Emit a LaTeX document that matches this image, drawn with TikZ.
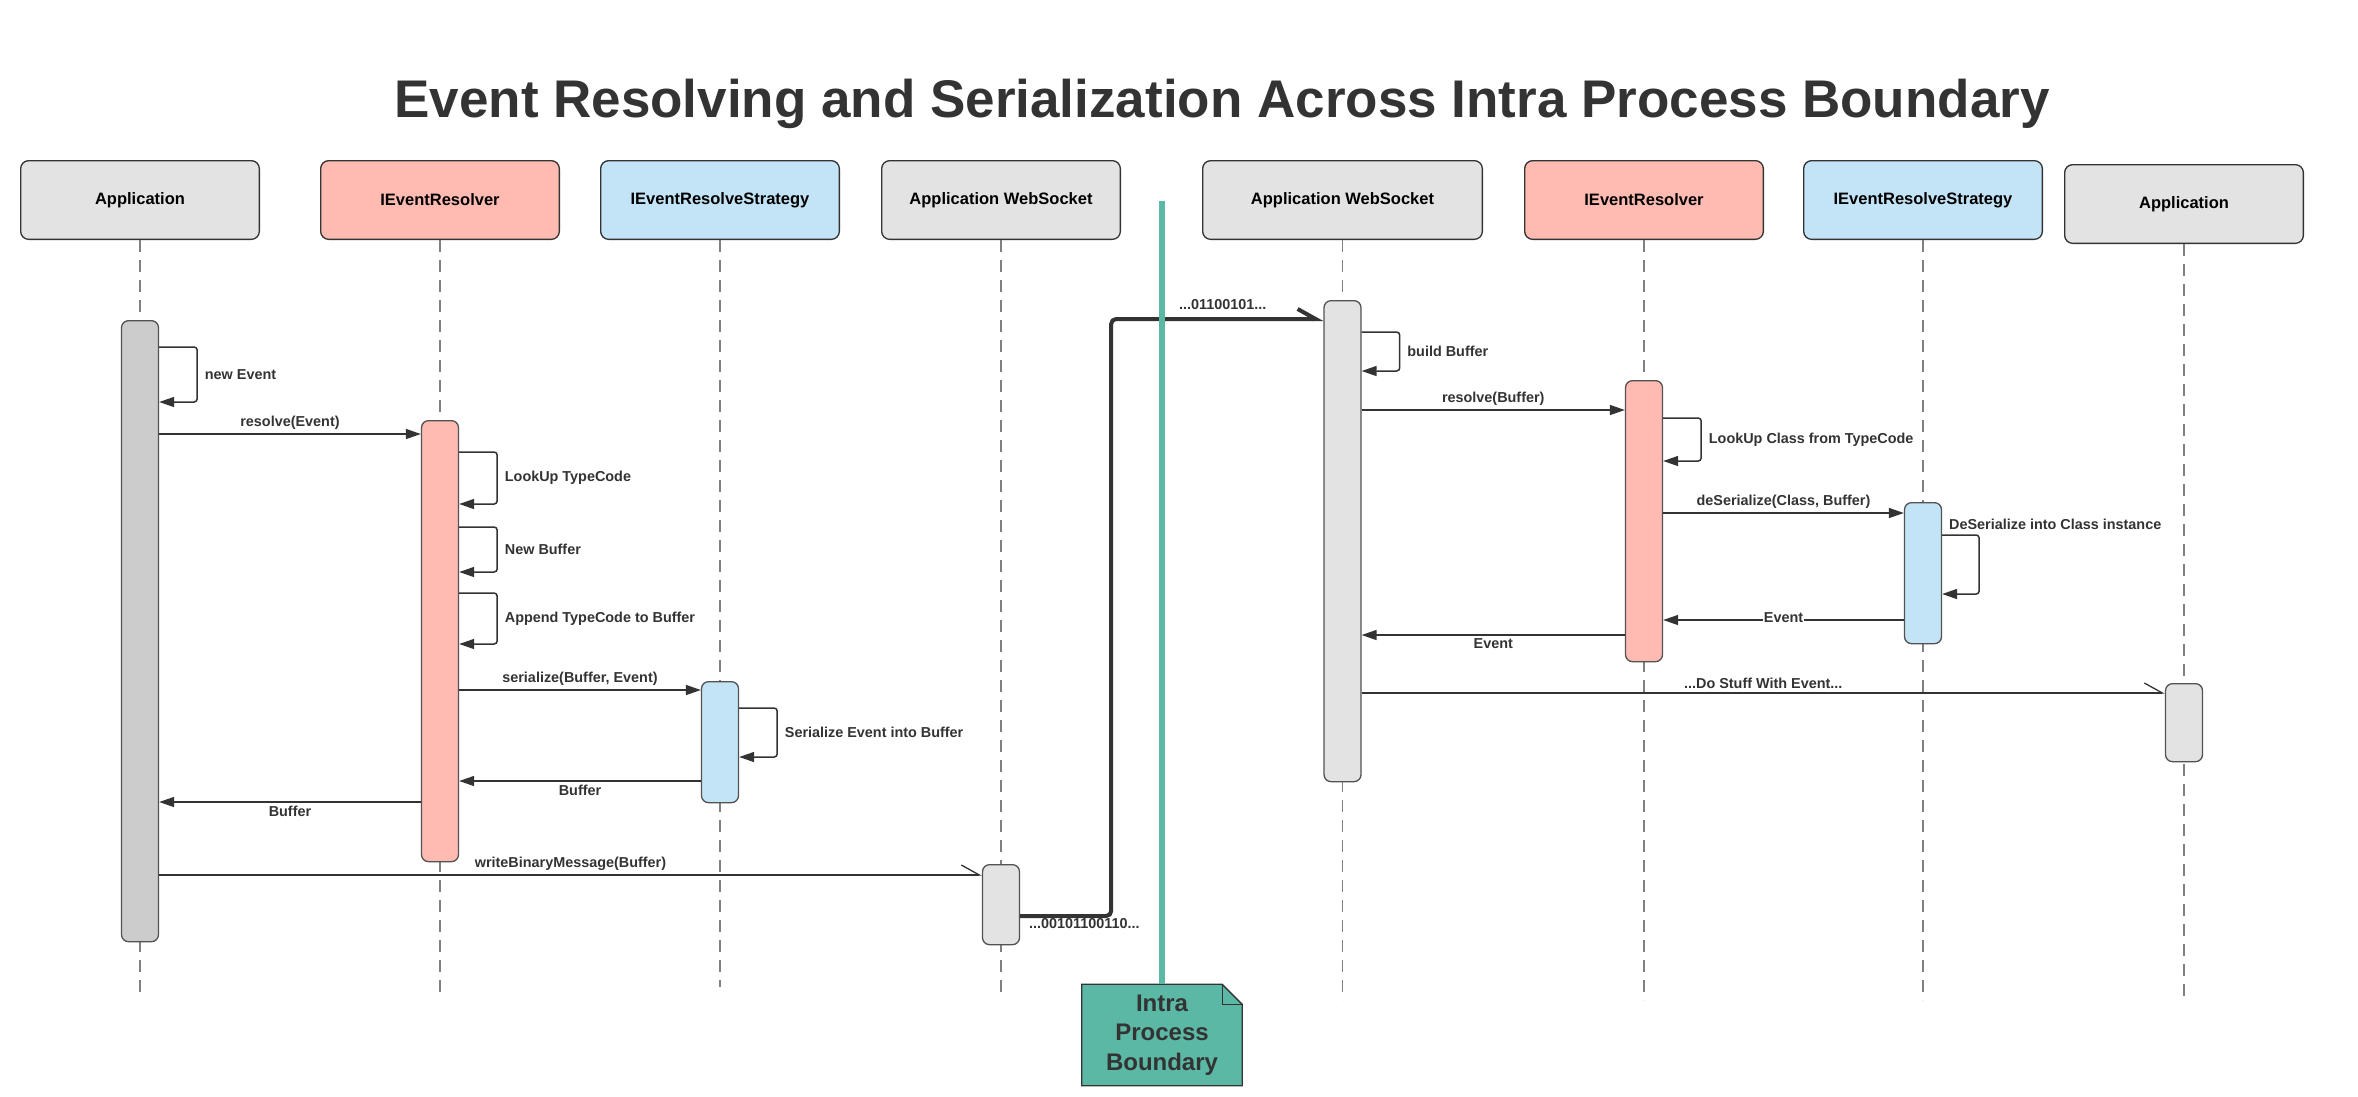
\documentclass[tikz,border=0pt]{standalone}
\usepackage{fontspec}
\setmainfont{Liberation Sans}
\usetikzlibrary{arrows.meta, positioning, backgrounds, calc}
\definecolor{cgray}{RGB}{227,227,227}
\definecolor{cgrayd}{RGB}{204,204,204}
\definecolor{cred}{RGB}{255,187,177}
\definecolor{cblue}{RGB}{194,228,246}
\definecolor{cteal}{RGB}{91,184,165}
\definecolor{cink}{RGB}{51,51,51}

\begin{document}
\begin{tikzpicture}[
  x=1pt, y=-1pt,
  head/.style   = {rectangle, rounded corners=8pt, draw=cink, line width=1.3pt,
                   fill=#1, minimum width=238.7pt, minimum height=78.7pt,
                   font=\fontsize{16.5}{20}\selectfont\bfseries, text=black},
  bar/.style    = {rectangle, rounded corners=7pt, draw=cink!85, line width=1.3pt,
                   fill=#1, minimum width=37pt, inner sep=0pt, anchor=north},
  life/.style   = {dash pattern=on 12pt off 8pt, gray, line width=1.3pt},
  msg/.style    = {-{Triangle[length=15pt, width=10pt]}, cink, line width=1.5pt},
  self/.style   = {msg, rounded corners=3pt},
  async/.style  = {-{Straight Barb[left, length=18pt, width=20pt]}, cink, line width=1.3pt},
  wire/.style   = {-{Straight Barb[left, length=18pt, width=20pt]}, cink, line width=4pt,
                   rounded corners=5pt},
  lbl/.style    = {font=\fontsize{14.4}{17}\selectfont\bfseries, text=cink, inner sep=1pt},
  notetxt/.style= {minimum width=160pt, minimum height=101pt, align=center,
                   font=\fontsize{24}{29.5}\selectfont\bfseries, text=cink},
]
\useasboundingbox (0,0) rectangle (2358,1096);

% title
\node[font=\fontsize{53}{60}\selectfont\bfseries, text=cink, anchor=base] (title)
  at (1222,117) {Event Resolving and Serialization Across Intra Process Boundary};

% participants
\node[head=cgray]                                    (appL)   at (140,200) {Application};
\node[head=cred,  right=60pt of appL]                (ierL)   {IEventResolver};
\node[head=cblue, right=40pt of ierL]                (stratL) {IEventResolveStrategy};
\node[head=cgray, right=41pt of stratL]              (wsL)    {Application WebSocket};
\node[head=cgray, right=81pt of wsL, minimum width=279.7pt] (wsR) {Application WebSocket};
\node[head=cred,  right=41pt of wsR]                 (ierR)   {IEventResolver};
\node[head=cblue, right=39pt of ierR]                (stratR) {IEventResolveStrategy};
\node[head=cgray, right=21pt of stratR, yshift=-4pt] (appR)   {Application};

% lifelines
\foreach \h/\e in {appL/993, ierL/993, stratL/987, wsL/998, wsR/1000, ierR/1000, stratR/1000, appR/996}
  \draw[life] (\h.south) -- (\h.south |- 0,\e);

% activations
\node[bar=cgrayd, minimum height=621pt] (appLbar)   at (appL |- 0,320)   {};
\node[bar=cred,   minimum height=441pt] (ierLbar)   at (ierL |- 0,420)   {};
\node[bar=cblue,  minimum height=121pt] (stratLbar) at (stratL |- 0,681) {};
\node[bar=cgray,  minimum height=80pt]  (wsLbar)    at (wsL |- 0,864)    {};
\node[bar=cgray,  minimum height=481pt] (wsRbar)    at (wsR |- 0,300)    {};
\node[bar=cred,   minimum height=281pt] (ierRbar)   at (ierR |- 0,380)   {};
\node[bar=cblue,  minimum height=141pt] (stratRbar) at (stratR |- 0,502) {};
\node[bar=cgray,  minimum height=78pt]  (appRbar)   at (appR |- 0,683)   {};

% sending side
\draw[self] (appLbar.east |- 0,347) -- ++(38,0) -- node[lbl, right=6pt] {new Event} ++(0,55)
  -- (appLbar.east |- 0,402);
\draw[msg] (appLbar.east |- 0,434) -- node[lbl, above=3pt] {resolve(Event)} (ierLbar.west |- 0,434);
\draw[self] (ierLbar.east |- 0,452) -- ++(38,0) -- node[lbl, right=6pt] {LookUp TypeCode} ++(0,52)
  -- (ierLbar.east |- 0,504);
\draw[self] (ierLbar.east |- 0,527) -- ++(38,0) -- node[lbl, right=6pt] {New Buffer} ++(0,45)
  -- (ierLbar.east |- 0,572);
\draw[self] (ierLbar.east |- 0,593) -- ++(38,0) -- node[lbl, right=6pt] {Append TypeCode to Buffer} ++(0,51)
  -- (ierLbar.east |- 0,644);
\draw[msg] (ierLbar.east |- 0,690) -- node[lbl, above=3pt] {serialize(Buffer, Event)} (stratLbar.west |- 0,690);
\draw[self] (stratLbar.east |- 0,708) -- ++(38,0) -- node[lbl, right=6pt] {Serialize Event into Buffer} ++(0,49)
  -- (stratLbar.east |- 0,757);
\draw[msg] (stratLbar.west |- 0,781) -- node[lbl, below=2pt] {Buffer} (ierLbar.east |- 0,781);
\draw[msg] (ierLbar.west |- 0,802) -- node[lbl, below=2pt] {Buffer} (appLbar.east |- 0,802);
\draw[async] (appLbar.east |- 0,875) -- node[lbl, above=3pt] {writeBinaryMessage(Buffer)} (wsLbar.west |- 0,875);

% across the boundary
\draw[wire] (wsLbar.east |- 0,916) -- ++(91,0) |- (wsRbar.west |- 0,319);
\node[lbl, anchor=west] (bitsout) at (1028,924) {...00101100110...};
\node[lbl, anchor=west] (bitsin)  at (1178,305) {...01100101...};

% receiving side
\draw[self] (wsRbar.east |- 0,332) -- ++(38,0) -- node[lbl, right=6pt] {build Buffer} ++(0,39)
  -- (wsRbar.east |- 0,371);
\draw[msg] (wsRbar.east |- 0,410) -- node[lbl, above=3pt] {resolve(Buffer)} (ierRbar.west |- 0,410);
\draw[self] (ierRbar.east |- 0,418) -- ++(38,0) -- node[lbl, right=6pt] {LookUp Class from TypeCode} ++(0,43)
  -- (ierRbar.east |- 0,461);
\draw[msg] (ierRbar.east |- 0,513) -- node[lbl, above=3pt] {deSerialize(Class, Buffer)} (stratRbar.west |- 0,513);
\draw[self] (stratRbar.east |- 0,535) -- ++(37,0) -- ++(0,59) -- (stratRbar.east |- 0,594);
\node[lbl, anchor=west] (deser) at (1948,524) {DeSerialize into Class instance};
\draw[msg] (stratRbar.west |- 0,620) -- node[lbl, fill=white, yshift=2pt] {Event} (ierRbar.east |- 0,620);
\draw[msg] (ierRbar.west |- 0,635) -- node[lbl, below=2pt] {Event} (wsRbar.east |- 0,635);
\draw[async] (wsRbar.east |- 0,693) -- node[lbl, above=3pt] {...Do Stuff With Event...} (appRbar.west |- 0,693);

% boundary
\node[notetxt] (note) at (1162,1035) {Intra\\Process\\Boundary};
\begin{pgfonlayer}{background}
  \draw[cink, line width=1.3pt, fill=cteal] (note.south west) -- (note.north west)
    -- ([xshift=-20pt]note.north east) -- ([yshift=-20pt]note.north east)
    -- (note.south east) -- cycle;
\end{pgfonlayer}
\draw[cink, line width=1.3pt] ([xshift=-20pt]note.north east) -- ([xshift=-20pt, yshift=-20pt]note.north east)
  -- ([yshift=-20pt]note.north east);
\coordinate (bndtop) at (note.north |- 0,201);
\draw[cteal, line width=6pt] (bndtop) -- (note.north);
\end{tikzpicture}
\end{document}
